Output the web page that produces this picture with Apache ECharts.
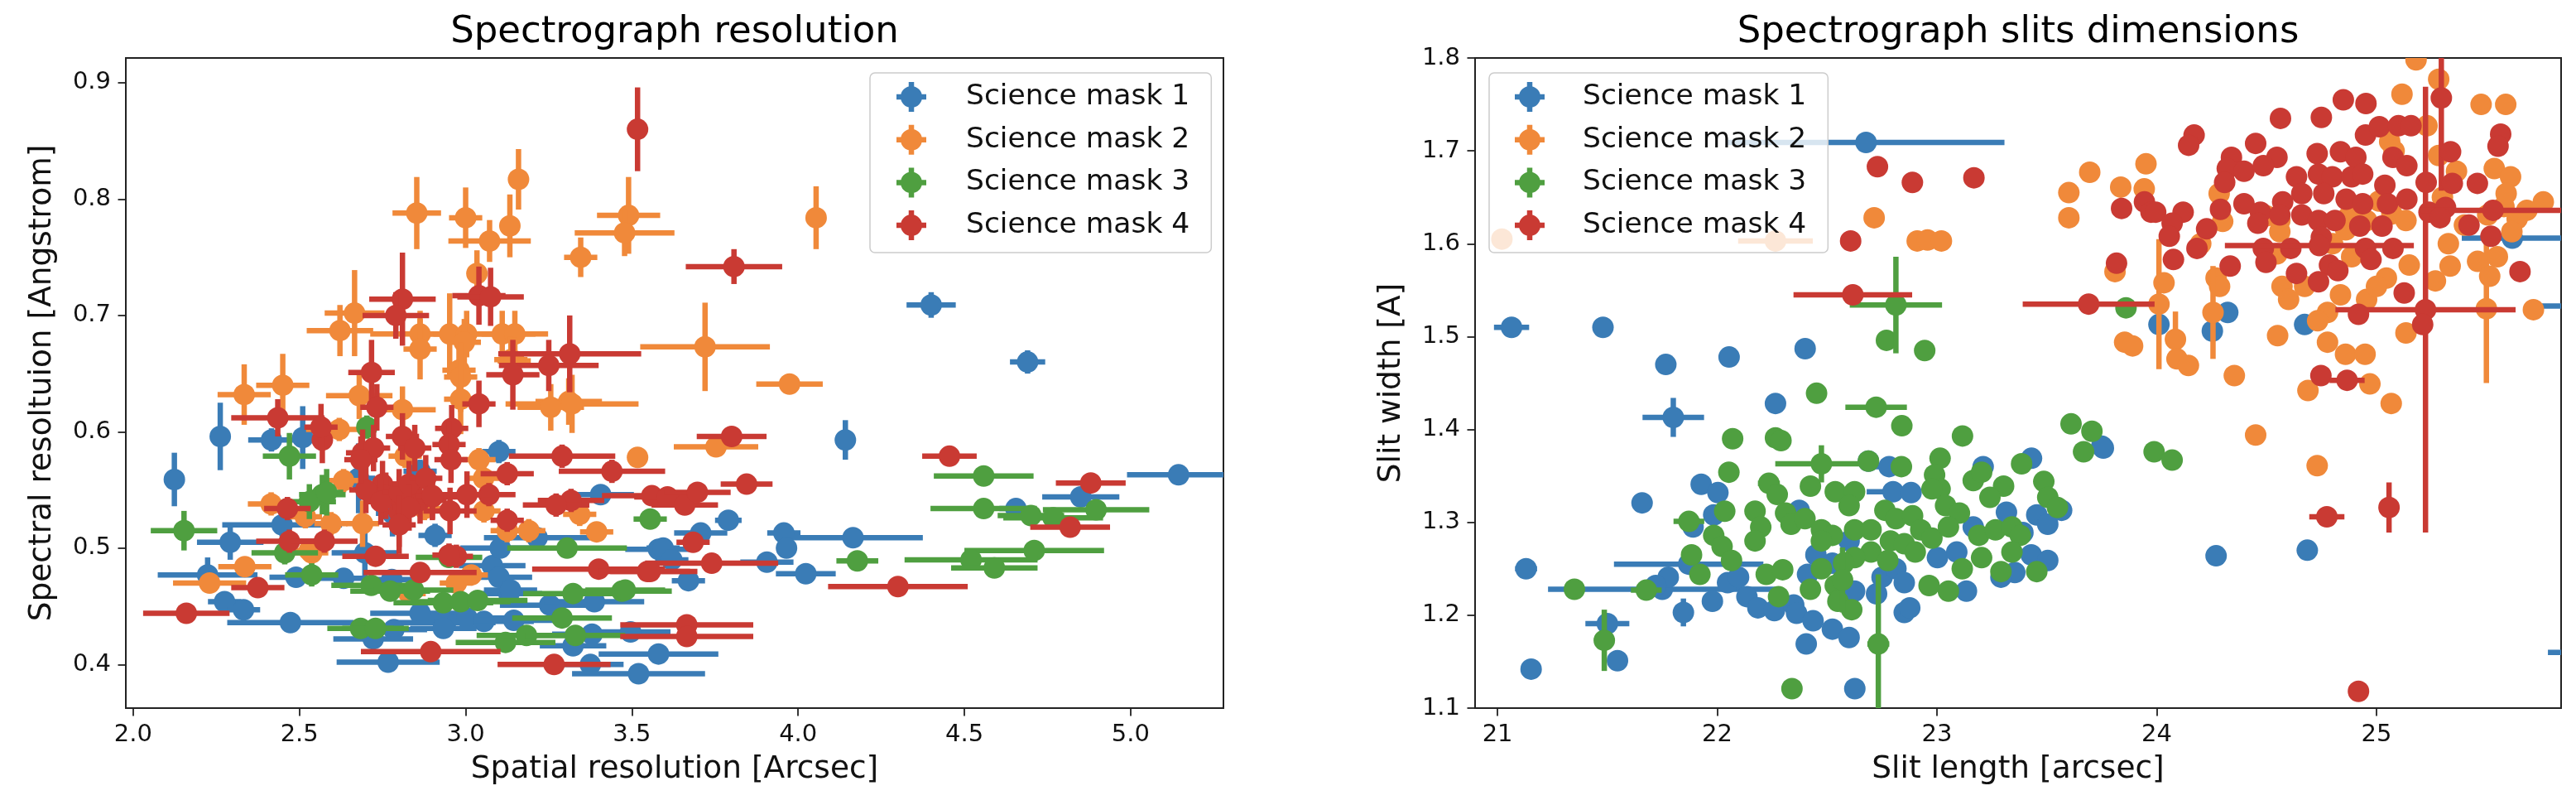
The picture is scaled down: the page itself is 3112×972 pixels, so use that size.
<!DOCTYPE html>
<html>
<head>
<meta charset="utf-8">
<script src="https://cdn.jsdelivr.net/npm/echarts@6/dist/echarts.min.js"></script>
<style>
html,body{margin:0;padding:0;background:#fff;}
#chart{width:3112px;height:972px;}
</style>
</head>
<body>
<div id="chart"></div>
<script>
// ---------- names & ticks ----------
const seriesNames = ['Science mask 1', 'Science mask 2', 'Science mask 3', 'Science mask 4'];
const seriesColors = ['#3a7cb6', '#f0893a', '#4f9f40', '#c93a33'];
const resXTicks = [2.0, 2.5, 3.0, 3.5, 4.0, 4.5, 5.0];
const resYTicks = [0.4, 0.5, 0.6, 0.7, 0.8, 0.9];
const slitXTicks = [21, 22, 23, 24, 25];
const slitYTicks = [1.1, 1.2, 1.3, 1.4, 1.5, 1.6, 1.7, 1.8];

// ---------- left plot: [spatial res, spectral res, x err, y err] ----------
const resMask1 = [
[2.124,0.559,0.02,0.023],[2.262,0.596,0.02,0.029],[2.416,0.593,0.07,0.01],[2.51,0.595,0.02,0.027],
[2.448,0.52,0.18,0.01],[2.292,0.505,0.1,0.015],[2.224,0.477,0.15,0.015],[2.49,0.475,0.08,0.008],
[2.633,0.474,0.08,0.005],[2.275,0.454,0.05,0.005],[2.332,0.447,0.05,0.005],[2.473,0.436,0.19,0.005],
[2.697,0.496,0.1,0.02],[2.678,0.56,0.05,0.03],[2.863,0.566,0.05,0.01],[2.908,0.511,0.05,0.01],
[3.1,0.583,0.05,0.01],[3.08,0.485,0.1,0.005],[3.1,0.475,0.1,0.005],[3.13,0.461,0.1,0.005],
[3.104,0.5,0.12,0.005],[3.215,0.509,0.16,0.005],[3.406,0.546,0.1,0.005],[3.58,0.499,0.1,0.005],
[3.253,0.451,0.15,0.005],[3.387,0.454,0.15,0.005],[2.863,0.444,0.15,0.005],[2.94,0.436,0.15,0.005],
[3.004,0.44,0.15,0.005],[3.055,0.437,0.15,0.005],[3.145,0.438,0.12,0.005],[2.784,0.43,0.1,0.005],
[2.722,0.422,0.12,0.005],[3.38,0.426,0.12,0.005],[3.496,0.428,0.12,0.005],[3.323,0.416,0.1,0.005],
[2.767,0.402,0.155,0.005],[3.375,0.4,0.1,0.005],[3.52,0.392,0.2,0.005],[3.58,0.409,0.18,0.005],
[3.79,0.524,0.04,0.005],[3.707,0.513,0.08,0.005],[3.957,0.513,0.05,0.005],[4.165,0.509,0.21,0.005],
[3.594,0.5,0.05,0.005],[3.62,0.49,0.05,0.005],[3.965,0.5,0.03,0.005],[3.906,0.488,0.08,0.005],
[4.023,0.478,0.09,0.005],[3.67,0.472,0.05,0.005],[4.142,0.593,0.005,0.017],[4.4,0.709,0.074,0.011],
[4.69,0.66,0.053,0.01],[5.144,0.563,0.155,0.005],[4.85,0.544,0.116,0.005],[4.655,0.534,0.05,0.005],
[2.933,0.431,0.1,0.005],[2.778,0.473,0.08,0.005],[3.135,0.464,0.08,0.005],[2.78,0.53,0.05,0.02]
];
const resMask2 = [
[3.159,0.817,0.02,0.026],[2.853,0.788,0.073,0.031],[3.0,0.784,0.05,0.026],[3.133,0.777,0.02,0.027],
[3.072,0.764,0.124,0.018],[3.49,0.786,0.095,0.033],[3.478,0.771,0.15,0.02],[3.346,0.75,0.05,0.017],
[4.054,0.784,0.02,0.027],[3.034,0.736,0.02,0.02],[2.666,0.702,0.09,0.037],[2.622,0.687,0.1,0.022],
[2.863,0.684,0.15,0.02],[2.952,0.684,0.08,0.035],[3.003,0.684,0.1,0.02],[3.11,0.684,0.1,0.02],
[3.148,0.684,0.1,0.02],[2.863,0.671,0.05,0.026],[2.996,0.677,0.05,0.02],[3.136,0.662,0.05,0.02],
[3.72,0.673,0.195,0.038],[3.974,0.641,0.1,0.005],[2.45,0.64,0.08,0.027],[2.334,0.632,0.08,0.026],
[2.98,0.653,0.05,0.02],[3.31,0.626,0.1,0.02],[2.68,0.631,0.1,0.02],[2.81,0.619,0.1,0.02],
[2.985,0.647,0.05,0.03],[2.985,0.628,0.05,0.03],[3.146,0.661,0.05,0.02],[3.32,0.624,0.2,0.025],
[3.256,0.621,0.1,0.02],[3.517,0.578,0.02,0.005],[3.753,0.587,0.127,0.005],[2.62,0.602,0.1,0.01],
[2.633,0.558,0.05,0.01],[2.415,0.538,0.07,0.01],[2.876,0.534,0.05,0.01],[3.055,0.532,0.05,0.01],
[3.343,0.529,0.05,0.01],[2.69,0.521,0.05,0.02],[2.595,0.521,0.05,0.01],[2.518,0.527,0.05,0.01],
[3.125,0.515,0.05,0.01],[3.19,0.515,0.05,0.01],[3.394,0.514,0.05,0.005],[2.537,0.496,0.05,0.01],
[2.336,0.484,0.08,0.005],[2.23,0.47,0.11,0.005],[2.83,0.461,0.05,0.01],[2.972,0.47,0.05,0.005],
[3.017,0.477,0.05,0.005],[2.53,0.498,0.05,0.005],[2.818,0.579,0.05,0.01],[3.054,0.56,0.05,0.01],
[3.04,0.576,0.05,0.01]
];
const resMask3 = [
[2.47,0.579,0.08,0.02],[2.703,0.604,0.03,0.01],[2.569,0.546,0.07,0.017],[2.53,0.54,0.08,0.015],
[2.582,0.548,0.05,0.02],[2.153,0.515,0.1,0.017],[3.305,0.5,0.18,0.005],[2.456,0.496,0.1,0.01],
[2.537,0.477,0.08,0.01],[2.716,0.468,0.12,0.005],[2.773,0.463,0.12,0.005],[2.843,0.464,0.12,0.005],
[2.933,0.453,0.15,0.005],[2.985,0.454,0.15,0.005],[3.036,0.455,0.15,0.005],[3.323,0.461,0.15,0.005],
[3.47,0.463,0.15,0.005],[2.684,0.431,0.1,0.005],[2.729,0.431,0.1,0.005],[3.12,0.419,0.15,0.005],
[3.183,0.425,0.15,0.005],[3.33,0.425,0.15,0.005],[3.29,0.44,0.15,0.005],[3.555,0.525,0.05,0.005],
[3.48,0.464,0.12,0.005],[4.558,0.562,0.15,0.005],[4.558,0.534,0.16,0.005],[4.70,0.528,0.1,0.005],
[4.767,0.526,0.15,0.005],[4.896,0.533,0.16,0.005],[4.178,0.489,0.063,0.005],[4.71,0.498,0.21,0.005],
[4.52,0.49,0.2,0.005],[4.59,0.483,0.13,0.005],[2.95,0.492,0.1,0.005]
];
const resMask4 = [
[3.517,0.86,0.02,0.036],[3.04,0.717,0.08,0.025],[3.075,0.716,0.1,0.025],[2.81,0.714,0.1,0.04],
[2.79,0.70,0.1,0.02],[3.807,0.742,0.145,0.015],[3.313,0.667,0.215,0.033],[3.25,0.657,0.15,0.022],
[3.142,0.649,0.08,0.03],[2.717,0.651,0.07,0.028],[2.435,0.612,0.14,0.016],[2.569,0.593,0.02,0.02],
[2.733,0.621,0.05,0.02],[2.69,0.582,0.05,0.02],[2.723,0.586,0.05,0.02],[2.81,0.596,0.05,0.02],
[2.958,0.603,0.05,0.02],[2.95,0.589,0.05,0.02],[3.29,0.579,0.16,0.01],[3.125,0.564,0.08,0.01],
[3.44,0.566,0.16,0.01],[3.07,0.546,0.08,0.01],[3.317,0.541,0.1,0.01],[3.272,0.537,0.1,0.01],
[3.56,0.545,0.15,0.005],[2.464,0.534,0.07,0.01],[2.80,0.531,0.05,0.03],[2.863,0.541,0.08,0.02],
[2.9,0.544,0.08,0.02],[2.953,0.532,0.08,0.02],[3.004,0.546,0.08,0.02],[3.125,0.524,0.05,0.01],
[2.47,0.506,0.1,0.01],[2.575,0.506,0.1,0.01],[2.729,0.493,0.1,0.005],[2.972,0.493,0.05,0.01],
[2.375,0.466,0.08,0.005],[2.863,0.479,0.17,0.005],[3.40,0.482,0.2,0.005],[3.547,0.48,0.15,0.005],
[2.16,0.444,0.13,0.006],[2.895,0.411,0.21,0.005],[3.266,0.4,0.17,0.005],[3.8,0.596,0.105,0.005],
[4.455,0.579,0.082,0.005],[4.88,0.556,0.105,0.005],[3.845,0.555,0.078,0.005],[3.607,0.544,0.1,0.005],
[3.659,0.537,0.1,0.005],[3.697,0.548,0.1,0.005],[4.818,0.518,0.12,0.005],[3.684,0.505,0.05,0.005],
[3.74,0.487,0.2,0.005],[3.555,0.48,0.12,0.005],[4.30,0.467,0.21,0.005],[3.665,0.434,0.2,0.005],
[3.665,0.424,0.2,0.005],[2.75,0.555,0.05,0.02],[2.76,0.545,0.05,0.02],[2.70,0.55,0.05,0.02],
[2.745,0.54,0.05,0.02],[2.80,0.548,0.05,0.02],[2.83,0.555,0.05,0.02],[2.88,0.56,0.05,0.02],
[2.90,0.545,0.05,0.02],[2.83,0.535,0.05,0.02],[3.04,0.624,0.05,0.02],[2.565,0.604,0.05,0.02],
[2.685,0.576,0.05,0.02],[2.847,0.586,0.05,0.02],[2.956,0.576,0.05,0.02],[2.95,0.494,0.05,0.01],
[2.80,0.52,0.05,0.025]
];

// ---------- right plot: [slit length, slit width, x err, y err] ----------
const slitMask1 = [
[21.064,1.51,0.08,0],[21.48,1.51,0,0],[21.766,1.47,0,0],[22.054,1.478,0,0],[22.40,1.487,0,0],
[22.265,1.428,0,0],[21.80,1.413,0.14,0.021],[21.658,1.321,0,0],[21.13,1.25,0.05,0],[21.75,1.228,0.52,0],
[21.87,1.255,0.34,0],[21.5,1.191,0.1,0.01],[21.546,1.151,0,0],[21.153,1.142,0,0],[22.626,1.121,0,0],
[22.405,1.169,0,0],[23.75,1.382,0,0],[22.677,1.709,0.63,0],[24.01,1.513,0,0],[24.253,1.506,0,0],
[24.323,1.526,0,0],[24.673,1.513,0,0],[25.618,1.606,0.23,0],[26.0,1.533,0.25,0],[26.05,1.16,0.27,0],
[23.757,1.38,0,0],[24.27,1.264,0,0],[24.685,1.27,0,0],
[21.927,1.341,0,0],[22.003,1.332,0,0],[21.984,1.308,0,0],[21.89,1.295,0,0],[21.777,1.241,0,0],
[21.72,1.232,0,0],[21.846,1.203,0.03,0.015],[21.978,1.215,0,0],[22.047,1.235,0,0],[22.097,1.241,0,0],
[22.135,1.22,0,0],[22.185,1.208,0,0],[22.26,1.205,0,0],[22.348,1.211,0,0],[22.361,1.202,0,0],
[22.436,1.194,0,0],[22.524,1.185,0,0],[22.6,1.176,0.02,0],[22.449,1.265,0,0],[22.411,1.244,0,0],
[22.524,1.256,0,0],[22.625,1.226,0,0],[22.725,1.223,0,0],[22.75,1.241,0,0],[22.813,1.25,0,0],
[22.851,1.235,0,0],[22.851,1.203,0,0],[22.876,1.208,0,0],[22.8,1.333,0.12,0],[22.882,1.332,0,0],
[22.782,1.36,0.1,0],[22.688,1.366,0,0],[23.002,1.262,0,0],[23.09,1.268,0,0],[23.134,1.226,0,0],
[23.21,1.36,0,0],[23.43,1.369,0,0],[23.316,1.311,0,0],[23.454,1.308,0,0],[23.504,1.298,0,0],
[23.567,1.313,0,0],[23.391,1.289,0,0],[23.429,1.265,0,0],[23.504,1.259,0,0],[23.354,1.246,0,0],
[23.291,1.241,0,0],[23.165,1.295,0,0],[22.6,1.28,0,0],[22.373,1.313,0,0]
];
const slitMask2 = [
[21.02,1.605,0,0],[22.265,1.603,0.17,0],[22.714,1.628,0,0],[22.91,1.603,0,0],[22.957,1.604,0,0],
[23.02,1.603,0,0],[23.6,1.655,0,0],[23.6,1.628,0,0],[23.695,1.677,0,0],[23.836,1.661,0,0],
[23.951,1.686,0,0],[23.943,1.659,0,0],[25.18,1.798,0,0],[25.283,1.777,0,0],[25.116,1.761,0,0],
[25.476,1.75,0,0],[25.588,1.75,0,0],[25.23,1.727,0,0],[25.283,1.695,0,0],[25.536,1.681,0,0],
[25.61,1.672,0,0],[25.759,1.645,0,0],[25.684,1.636,0,0],[25.64,1.627,0,0],[25.58,1.64,0,0],
[25.506,1.631,0,0],[24.30,1.624,0,0],[23.81,1.57,0,0],[24.01,1.535,0,0.07],[24.033,1.558,0,0],
[24.27,1.563,0,0],[24.286,1.554,0,0],[24.256,1.526,0,0.05],[23.854,1.494,0.03,0],[23.89,1.49,0,0],
[24.085,1.497,0,0.03],[24.092,1.476,0,0],[24.144,1.469,0,0],[24.353,1.458,0,0],[24.55,1.501,0.03,0],
[24.688,1.442,0,0],[24.777,1.494,0,0],[24.859,1.481,0,0],[24.948,1.481,0,0],[24.97,1.449,0,0],
[25.067,1.428,0.03,0],[25.134,1.504,0,0],[24.45,1.394,0,0],[24.73,1.361,0,0],[25.714,1.529,0,0],
[25.5,1.53,0,0.08],[25.327,1.6,0,0],[25.335,1.576,0,0],[25.268,1.56,0,0],[25.46,1.581,0,0],
[25.55,1.586,0,0],[25.045,1.563,0,0],[25.149,1.577,0,0],[24.57,1.554,0,0],[24.6,1.54,0,0],
[24.673,1.554,0,0],[24.836,1.545,0,0],[24.777,1.526,0,0],[24.732,1.517,0,0],[24.955,1.54,0,0],
[25.0,1.554,0,0],[24.8,1.6,0,0],[24.86,1.615,0,0],[24.875,1.63,0,0],[24.955,1.625,0,0],
[25.07,1.632,0,0],[25.134,1.625,0,0],[25.06,1.71,0,0],[25.08,1.7,0,0],[24.5,1.63,0,0],
[24.56,1.625,0,0],[25.3,1.65,0,0],[25.4,1.62,0,0],[24.2,1.6,0,0],
[25.364,1.678,0,0],[25.59,1.654,0,0],[25.616,1.613,0,0],[24.284,1.654,0,0],[25.515,1.565,0,0],
[24.56,1.613,0,0],[24.547,1.589,0,0],[24.887,1.586,0,0],[25.012,1.646,0,0]
];
const slitMask3 = [
[22.77,1.496,0,0],[22.944,1.485,0,0],[22.813,1.534,0.21,0.052],[22.452,1.439,0,0],[22.723,1.424,0.14,0],
[22.84,1.404,0,0],[22.07,1.39,0,0],[22.265,1.391,0,0],[22.29,1.388,0,0],[23.116,1.393,0,0],
[23.61,1.406,0,0],[23.705,1.398,0,0],[23.667,1.376,0,0],[21.35,1.228,0.03,0],[21.677,1.227,0.07,0],
[21.486,1.173,0,0.033],[22.733,1.169,0.05,0.075],[22.34,1.121,0.02,0],[23.86,1.531,0,0],[23.988,1.376,0,0],
[24.07,1.367,0,0],
[22.053,1.354,0,0],[22.235,1.342,0.05,0],[22.273,1.33,0,0],[22.034,1.312,0,0],[21.871,1.301,0.07,0],
[21.984,1.286,0,0],[22.022,1.274,0,0],[22.065,1.259,0,0],[21.883,1.265,0,0],[21.921,1.244,0,0],
[22.172,1.312,0,0],[22.198,1.295,0,0],[22.172,1.28,0,0],[22.311,1.31,0,0],[22.336,1.298,0,0],
[22.424,1.339,0,0],[22.474,1.363,0.21,0.02],[22.537,1.333,0,0],[22.625,1.333,0,0],[22.6,1.318,0,0],
[22.399,1.304,0,0],[22.474,1.292,0,0],[22.524,1.286,0,0],[22.474,1.28,0,0],[22.688,1.366,0,0],
[22.838,1.36,0,0],[22.625,1.292,0,0],[22.7,1.292,0,0],[22.763,1.313,0,0],[22.813,1.304,0,0],
[22.889,1.307,0,0],[22.926,1.292,0,0],[22.977,1.283,0,0],[22.788,1.28,0,0],[22.851,1.277,0,0],
[22.901,1.268,0,0],[22.7,1.268,0,0],[22.625,1.262,0,0],[22.575,1.256,0,0],[22.776,1.259,0,0],
[22.474,1.25,0,0],[22.424,1.228,0,0],[22.537,1.232,0,0],[22.549,1.215,0,0],[22.612,1.206,0,0],
[22.223,1.244,0,0],[22.298,1.249,0,0],[22.279,1.22,0,0],[23.014,1.369,0,0],[22.989,1.351,0,0],
[23.014,1.336,0,0],[23.039,1.318,0,0],[22.977,1.336,0,0],[23.102,1.31,0,0],[23.052,1.295,0,0],
[23.165,1.345,0,0],[23.203,1.354,0,0],[23.303,1.339,0,0],[23.241,1.327,0,0],[23.385,1.363,0,0],
[23.486,1.344,0,0],[23.504,1.327,0,0],[23.548,1.316,0,0],[23.19,1.286,0,0],[23.266,1.292,0,0],
[23.341,1.295,0,0],[23.379,1.286,0,0],[23.203,1.262,0,0],[23.291,1.247,0,0],[23.341,1.268,0,0],
[23.454,1.247,0,0],[23.115,1.25,0,0],[22.964,1.232,0,0],[23.052,1.226,0,0],[22.57,1.238,0,0.035]
];
const slitMask4 = [
[22.729,1.683,0,0],[22.888,1.666,0,0],[23.168,1.671,0,0],[22.607,1.603,0,0],[22.617,1.545,0.27,0],
[23.69,1.535,0.3,0],[23.84,1.638,0,0],[23.944,1.645,0,0],[23.974,1.634,0,0],[23.817,1.579,0,0],
[25.223,1.529,0.41,0.24],[25.21,1.513,0,0],[24.747,1.458,0,0],[24.866,1.453,0.08,0],[24.774,1.306,0.08,0],
[25.057,1.316,0,0.027],[24.918,1.118,0,0],[24.918,1.524,0,0],
[24.849,1.755,0,0],[24.952,1.751,0,0],[24.563,1.735,0,0],[24.749,1.736,0,0],[25.295,1.757,0,0.1],
[24.17,1.717,0,0],[24.145,1.706,0,0],[24.45,1.708,0,0],[24.95,1.717,0,0],[25.013,1.726,0,0],
[25.1,1.727,0,0],[25.157,1.727,0,0],[25.565,1.718,0,0],[25.553,1.705,0,0],[25.337,1.699,0,0],
[24.34,1.693,0,0],[24.321,1.681,0,0],[24.547,1.693,0,0],[24.73,1.697,0,0],[24.836,1.699,0,0],
[24.906,1.693,0,0],[25.075,1.693,0,0],[25.138,1.684,0,0],[24.309,1.666,0,0],[24.397,1.678,0,0],
[24.485,1.684,0,0],[24.636,1.672,0,0],[24.736,1.675,0,0],[24.799,1.672,0,0],[24.887,1.672,0,0],
[24.937,1.675,0,0],[25.038,1.663,0,0],[25.226,1.666,0,0],[25.345,1.665,0,0],[25.459,1.665,0,0],
[24.29,1.637,0,0],[24.397,1.643,0,0],[24.472,1.634,0,0],[24.573,1.645,0,0],[24.66,1.654,0,0],
[24.76,1.654,0,0],[24.862,1.648,0,0],[24.937,1.643,0,0],[25.05,1.643,0,0],[25.138,1.648,0,0],
[25.239,1.634,0,0],[25.314,1.639,0,0],[25.53,1.636,0.33,0],[23.995,1.634,0,0],[24.12,1.634,0,0],
[24.07,1.622,0,0],[24.227,1.616,0,0],[24.057,1.608,0,0],[24.46,1.622,0,0],[24.56,1.631,0,0],
[24.66,1.631,0,0],[24.736,1.625,0,0],[24.811,1.625,0,0],[24.924,1.619,0,0],[25.025,1.619,0,0],
[25.289,1.628,0,0],[25.421,1.62,0,0],[25.521,1.608,0,0],[24.076,1.583,0,0],[24.183,1.595,0,0],
[24.334,1.576,0,0],[24.485,1.595,0,0],[24.497,1.58,0,0],[24.61,1.595,0,0],[24.749,1.607,0,0],
[24.74,1.598,0.43,0],[24.786,1.577,0,0],[24.95,1.595,0,0],[25.075,1.595,0,0],[24.975,1.583,0,0],
[24.636,1.568,0,0],[24.736,1.559,0,0],[24.824,1.571,0,0],[25.653,1.57,0,0],[25.126,1.547,0,0]
];

// ---------- drawing ----------
const MARKER_R = 13;
const BAR_W = 6.5;
const FONT = '"DejaVu Sans", "Liberation Sans", sans-serif';
const LEGEND_ICON = 'path://M5,18 A13,13 0 1,1 31,18 A13,13 0 1,1 5,18 Z M14.75,0 L21.25,0 L21.25,36 L14.75,36 Z M0,14.75 L36,14.75 L36,21.25 L0,21.25 Z';

function errRenderer(color) {
  return function (params, api) {
    const x = api.value(0), y = api.value(1), ex = api.value(2), ey = api.value(3);
    const c = api.coord([x, y]);
    const children = [];
    if (ex > 0) {
      const a = api.coord([x - ex, y]), b = api.coord([x + ex, y]);
      children.push({ type: 'line', shape: { x1: a[0], y1: a[1], x2: b[0], y2: b[1] },
        style: { stroke: color, lineWidth: BAR_W } });
    }
    if (ey > 0) {
      const a = api.coord([x, y - ey]), b = api.coord([x, y + ey]);
      children.push({ type: 'line', shape: { x1: a[0], y1: a[1], x2: b[0], y2: b[1] },
        style: { stroke: color, lineWidth: BAR_W } });
    }
    children.push({ type: 'circle', shape: { cx: c[0], cy: c[1], r: MARKER_R }, style: { fill: color } });
    return { type: 'group', children: children };
  };
}

function makeSeries(data, i, gridIdx) {
  return {
    type: 'custom', name: seriesNames[i], xAxisIndex: gridIdx, yAxisIndex: gridIdx,
    clip: true, itemStyle: { color: seriesColors[i] },
    encode: { x: 0, y: 1 },
    renderItem: errRenderer(seriesColors[i]),
    data: data, animation: false
  };
}

const axisCommon = {
  type: 'value',
  axisLine: { show: false },
  axisTick: { show: true, length: 9.5, lineStyle: { color: '#222', width: 1.8 } },
  axisLabel: { color: '#111', fontSize: 29, fontFamily: FONT, margin: 18 },
  splitLine: { show: false },
  nameTextStyle: { color: '#111', fontSize: 37.5, fontFamily: FONT },
  nameLocation: 'middle'
};
function axis(extra, ticks, fmt) {
  const a = JSON.parse(JSON.stringify(axisCommon));
  Object.assign(a, extra);
  a.axisTick.customValues = ticks;
  a.axisLabel.customValues = ticks;
  a.axisLabel.formatter = fmt;
  return a;
}
const f1 = v => Number(v).toFixed(1);
const f0 = v => String(Math.round(v));

function legend(left, padL, textPadL) {
  return {
    left: left, top: 88, orient: 'vertical',
    data: seriesNames.map(n => ({ name: n, icon: LEGEND_ICON })),
    itemWidth: 36, itemHeight: 36, itemGap: 15.7,
    padding: [11, 26, 15, padL],
    backgroundColor: 'rgba(255,255,255,0.8)',
    borderColor: '#cccccc', borderWidth: 1.5, borderRadius: 6,
    textStyle: { fontSize: 34.5, fontFamily: FONT, color: '#111', lineHeight: 36, padding: [0, 0, 0, textPadL] },
    selectedMode: false
  };
}

const chart = echarts.init(document.getElementById('chart'), null, { renderer: 'canvas', width: 3112, height: 972 });
chart.setOption({
  animation: false,
  backgroundColor: '#ffffff',
  grid: [
    { left: 152, top: 70, width: 1326, height: 785, show: true, borderColor: '#222', borderWidth: 2, backgroundColor: 'transparent' },
    { left: 1782, top: 70, width: 1312, height: 785, show: true, borderColor: '#222', borderWidth: 2, backgroundColor: 'transparent' }
  ],
  xAxis: [
    axis({ gridIndex: 0, min: 1.978, max: 5.279, name: 'Spatial resolution [Arcsec]', nameGap: 55 }, resXTicks, f1),
    axis({ gridIndex: 1, min: 20.898, max: 25.84, name: 'Slit length [arcsec]', nameGap: 55 }, slitXTicks, f0)
  ],
  yAxis: [
    axis({ gridIndex: 0, min: 0.3625, max: 0.9213, name: 'Spectral resoltuion [Angstrom]', nameGap: 82, nameRotate: 90 }, resYTicks, f1),
    axis({ gridIndex: 1, min: 1.1, max: 1.8, name: 'Slit width [A]', nameGap: 82, nameRotate: 90 }, slitYTicks, f1)
  ],
  legend: [legend(1051, 32, 43), legend(1799, 31, 41)],
  graphic: [
    { type: 'text', x: 815, y: 39, style: { text: 'Spectrograph resolution', font: '45px ' + FONT, fill: '#000', align: 'center', verticalAlign: 'middle' } },
    { type: 'text', x: 2438, y: 39, style: { text: 'Spectrograph slits dimensions', font: '45px ' + FONT, fill: '#000', align: 'center', verticalAlign: 'middle' } }
  ],
  series: [
    makeSeries(resMask1, 0, 0), makeSeries(resMask2, 1, 0), makeSeries(resMask3, 2, 0), makeSeries(resMask4, 3, 0),
    makeSeries(slitMask1, 0, 1), makeSeries(slitMask2, 1, 1), makeSeries(slitMask3, 2, 1), makeSeries(slitMask4, 3, 1)
  ]
});
</script>
</body>
</html>
